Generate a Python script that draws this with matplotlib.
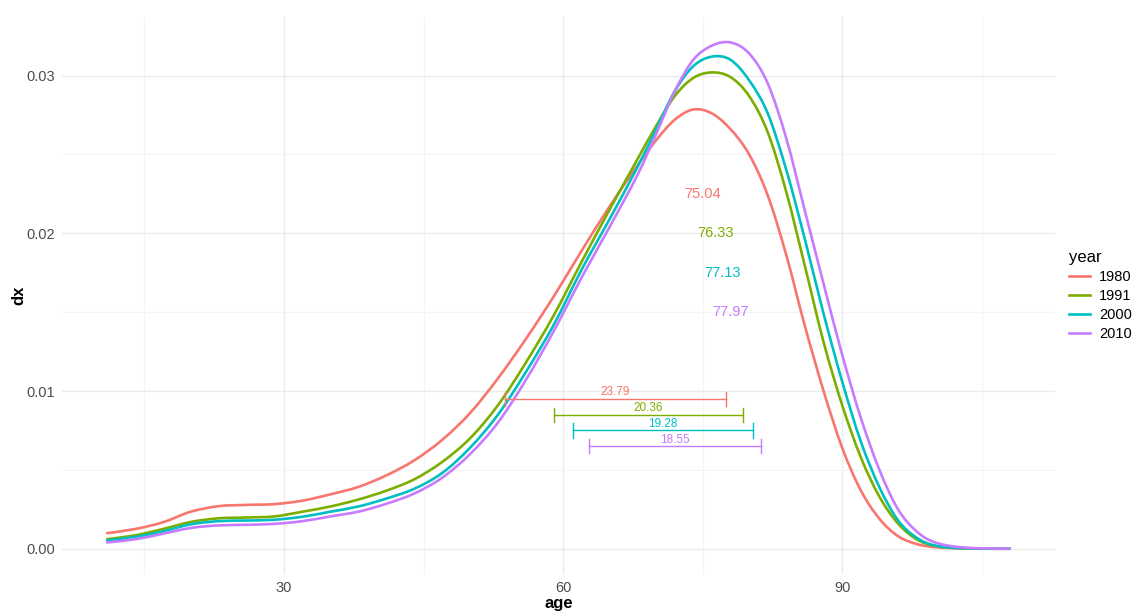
'''
Age-at-death distributions (dx) by year, with mean and spread markers
'''
import numpy as np
import matplotlib
matplotlib.use('Agg')
import matplotlib.pyplot as plt
from matplotlib.path import Path
from matplotlib.patches import PathPatch
from matplotlib.lines import Line2D
from matplotlib.ticker import MultipleLocator, FormatStrFormatter

plt.rcParams['font.family'] = ['Liberation Sans', 'DejaVu Sans']

# data
ages = [11, 14, 17, 20, 23, 26, 29, 32, 35, 38, 41, 44, 47, 50, 53, 56, 59,
        62, 65, 68, 70, 72, 74, 76, 78, 80, 82, 84, 86, 88, 90, 92, 94, 96,
        98, 100, 103, 108]

dx_1980 = [0.00099, 0.00125, 0.00168, 0.00235, 0.00270, 0.00278, 0.00283,
           0.00305, 0.00345, 0.00392, 0.00465, 0.0056, 0.0069, 0.0086, 0.0108,
           0.0133, 0.0160, 0.0189, 0.0217, 0.0243, 0.0259, 0.0272, 0.02785,
           0.0276, 0.0266, 0.0250, 0.0224, 0.0186, 0.0141, 0.0100, 0.0064,
           0.0037, 0.0019, 0.0008, 0.0003, 0.0001, 0.00002, 0.0]
dx_1991 = [0.00061, 0.00085, 0.00125, 0.00170, 0.00193, 0.00198, 0.00205,
           0.00235, 0.00268, 0.00312, 0.00368, 0.0044, 0.0055, 0.0070, 0.0091,
           0.0118, 0.0148, 0.0182, 0.0215, 0.0247, 0.0268, 0.0287, 0.02985,
           0.0302, 0.0299, 0.0287, 0.0264, 0.0226, 0.0179, 0.0131, 0.0091,
           0.0058, 0.0033, 0.0016, 0.0006, 0.00018, 0.00003, 0.0]
dx_2000 = [0.00053, 0.00075, 0.00110, 0.00155, 0.00175, 0.00179, 0.00184,
           0.00203, 0.00235, 0.00268, 0.00318, 0.0038, 0.0048, 0.0064, 0.0085,
           0.0112, 0.0142, 0.0177, 0.0209, 0.0242, 0.0266, 0.0290, 0.0306,
           0.0312, 0.0310, 0.0297, 0.0276, 0.0240, 0.0196, 0.0149, 0.0106,
           0.0068, 0.0039, 0.0018, 0.0007, 0.0002, 0.00003, 0.0]
dx_2010 = [0.00040, 0.00060, 0.00095, 0.00132, 0.00148, 0.00152, 0.00158,
           0.00175, 0.00205, 0.00235, 0.00285, 0.0035, 0.0045, 0.0060, 0.0080,
           0.0107, 0.0138, 0.0172, 0.0204, 0.0237, 0.0263, 0.0290, 0.0310,
           0.0319, 0.0321, 0.0314, 0.0295, 0.0260, 0.0214, 0.0168, 0.0123,
           0.0083, 0.0050, 0.0025, 0.0011, 0.0004, 0.00008, 0.0]

years = ['1980', '1991', '2000', '2010']
colors = ['#F8766D', '#7CAE00', '#00BFC4', '#C77CFF']

mean_age = [75.04, 76.33, 77.13, 77.97]
mean_y = [0.0225, 0.0200, 0.0175, 0.0150]

spread = [23.79, 20.36, 19.28, 18.55]
spread_right = [77.53, 79.36, 80.38, 81.30]
spread_y = [0.0095, 0.0085, 0.0075, 0.0065]

series = [dx_1980, dx_1991, dx_2000, dx_2010]


def smooth_path(x, y):
  # Catmull-Rom through the read points, drawn as cubic Bezier segments
  p = np.column_stack([x, y]).astype(float)
  n = len(p)
  verts = [p[0]]
  codes = [Path.MOVETO]
  for i in range(n - 1):
    p0 = p[max(i - 1, 0)]
    p1 = p[i]
    p2 = p[i + 1]
    p3 = p[min(i + 2, n - 1)]
    c1 = p1 + (p2 - p0) / 6.0
    c2 = p2 - (p3 - p1) / 6.0
    verts += [c1, c2, p2]
    codes += [Path.CURVE4] * 3
  return Path(verts, codes)


fig = plt.figure(figsize=(11.32, 6.12), dpi=100)
ax = fig.add_axes([0.0548, 0.062, 0.877, 0.910])

handles = []
for yr, dx, c in zip(years, series, colors):
  ax.add_patch(PathPatch(smooth_path(ages, dx), fill=False, edgecolor=c,
                         lw=1.9, capstyle='round', joinstyle='round'))
  handles.append(Line2D([], [], color=c, lw=1.9, label=yr))

for m, y, c in zip(mean_age, mean_y, colors):
  ax.text(m, y, '%.2f' % m, color=c, fontsize=10.5, ha='center', va='center')

for w, r, y, c in zip(spread, spread_right, spread_y, colors):
  l = r - w
  ax.plot([l, r], [y, y], color=c, lw=1.0)
  ax.plot([l, l], [y - 0.00045, y + 0.00045], color=c, lw=1.0)
  ax.plot([r, r], [y - 0.00045, y + 0.00045], color=c, lw=1.0)
  ax.text((l + r) / 2, y + 0.00042, '%.2f' % w, color=c, fontsize=8.5,
          ha='center', va='center')

xr = ages[-1] - ages[0]
ax.set_xlim(ages[0] - 0.05 * xr, ages[-1] + 0.05 * xr)
ymax = max(max(s) for s in series)
ax.set_ylim(-0.05 * ymax, 1.05 * ymax)

ax.xaxis.set_major_locator(MultipleLocator(30))
ax.xaxis.set_minor_locator(MultipleLocator(15))
ax.yaxis.set_major_locator(MultipleLocator(0.01))
ax.yaxis.set_minor_locator(MultipleLocator(0.005))
ax.yaxis.set_major_formatter(FormatStrFormatter('%.2f'))

ax.grid(True, which='major', color='#EBEBEB', lw=1.0)
ax.grid(True, which='minor', color='#F4F4F4', lw=0.8)
ax.set_axisbelow(True)
for s in ax.spines.values():
  s.set_visible(False)
ax.tick_params(which='both', length=0, labelsize=10.5, labelcolor='#4D4D4D',
               pad=5)

ax.set_xlabel('age', fontsize=12, fontweight='bold', labelpad=1)
ax.set_ylabel('dx', fontsize=12, fontweight='bold', labelpad=0)

leg = ax.legend(handles=handles, title='year', loc='center left',
                bbox_to_anchor=(1.005, 0.5), frameon=False, fontsize=10.5,
                title_fontsize=12, handlelength=1.5, handletextpad=0.6,
                labelspacing=0.35, borderaxespad=0.2)
leg._legend_box.align = 'left'

fig.savefig('out.png', dpi=100)
